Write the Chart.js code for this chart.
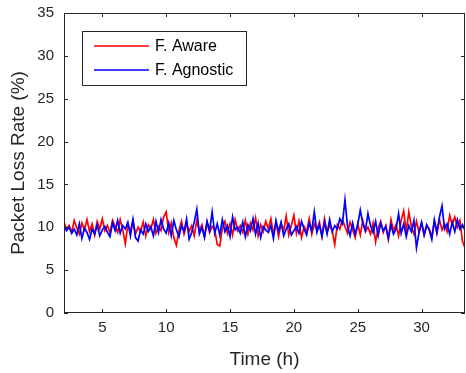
<!DOCTYPE html>
<html>
<head>
<meta charset="utf-8">
<script src="https://cdn.jsdelivr.net/npm/chart.js@4.4.1/dist/chart.umd.min.js"></script>
<style>
  html, body { margin: 0; padding: 0; background: #fff; }
  #wrap { width: 466px; height: 373px; }
</style>
</head>
<body>
<div id="wrap"><canvas id="plot" width="466" height="373"></canvas></div>
<script>
const timeStart = 2;
const timeStep = 0.2;

const awareLoss = [
  10.6, 9.8, 10.2, 9.4, 10.8, 9.9, 9.2, 10.5, 9.7, 10.9,
  9.5, 10.4, 9.1, 10.7, 9.8, 11.0, 9.6, 10.2, 9.3, 10.8,
  10.1, 9.4, 10.9, 9.7, 8.1, 10.3, 9.6, 10.8, 9.2, 10.0,
  9.5, 10.6, 9.0, 10.3, 9.8, 10.9, 9.3, 10.1, 9.6, 11.2,
  11.8, 9.4, 10.5, 8.8, 7.9, 9.6, 10.7, 9.2, 10.4, 9.5,
  10.2, 9.0, 10.8, 9.6, 10.3, 8.9, 10.6, 9.4, 10.1, 9.7,
  8.0, 7.8, 9.9, 10.7, 9.3, 10.4, 9.1, 10.9, 9.6, 10.2,
  9.4, 10.8, 9.2, 10.5, 9.7, 11.1, 9.0, 10.3, 9.5, 10.7,
  9.8, 11.0, 9.2, 10.6, 8.9, 10.4, 9.6, 11.3, 9.1, 10.2,
  11.4, 9.3, 10.7, 8.8, 10.1, 9.5, 11.0, 9.2, 10.4, 9.7,
  10.6, 9.0, 11.0, 9.4, 10.2, 9.6, 8.0, 10.3, 9.8, 10.9,
  10.1, 9.3, 10.6, 9.7, 8.8, 10.4, 9.1, 10.8, 9.5, 10.0,
  9.2, 10.5, 8.3, 9.9, 10.7, 9.4, 10.2, 8.6, 10.9, 9.6,
  10.3, 9.0, 10.8, 11.9, 9.5, 11.8, 10.1, 9.2, 10.7, 9.4,
  10.5, 9.1, 10.2, 9.8, 8.9, 10.6, 9.3, 10.9, 9.7, 10.4,
  9.5, 11.4, 10.3, 11.2, 10.0, 10.8, 8.4, 7.6
];

const agnosticLoss = [
  10.2, 9.6, 10.0, 9.3, 9.8, 9.1, 10.4, 8.7, 9.9, 9.4,
  8.6, 9.8, 9.2, 10.3, 9.0, 9.7, 10.1, 9.4, 8.9, 10.5,
  9.6, 10.8, 9.3, 10.2, 9.8, 10.6, 9.0, 10.9, 8.8, 8.4,
  9.7, 9.2, 10.4, 9.5, 10.1, 9.0, 10.7, 9.4, 10.9, 9.8,
  9.3, 10.5, 9.0, 10.8, 9.7, 8.9, 10.2, 9.5, 11.0, 8.6,
  9.4, 10.6, 12.1, 9.2, 10.0, 8.8, 10.7, 9.6, 11.8, 9.3,
  10.4, 9.1, 10.9, 9.5, 10.2, 8.9, 11.2, 9.7, 10.0, 9.3,
  10.6, 8.9, 10.3, 9.6, 11.0, 9.2, 10.5, 8.8, 10.1, 9.7,
  9.4, 10.2, 8.7, 10.8, 9.5, 10.6, 9.0, 9.8, 10.4, 9.1,
  9.6, 10.1, 9.3, 10.7, 9.8, 9.1, 10.5, 9.6, 11.8, 9.4,
  10.3, 8.9, 10.6, 9.2, 10.9, 9.5, 10.2, 9.8, 11.0, 10.4,
  13.2, 10.1, 9.0, 10.5, 9.2, 10.3, 12.0, 10.4, 9.6, 11.6,
  10.2, 9.4, 10.7, 9.0, 10.5, 9.6, 10.1, 8.7, 10.3, 9.2,
  9.8, 11.6, 9.3, 10.4, 8.9, 10.2, 9.5, 10.8, 7.6, 9.4,
  10.6, 9.1, 10.3, 9.7, 8.6, 10.9, 9.4, 11.2, 12.5, 9.8,
  10.4, 9.2, 10.6, 9.5, 10.9, 9.8, 10.3, 9.6
];

const seriesNames = ['F. Aware', 'F. Agnostic'];
const xTicks = [5, 10, 15, 20, 25, 30];
const yTicks = [0, 5, 10, 15, 20, 25, 30, 35];

const ink = '#262626';
const fontFamily = "'Liberation Sans', Arial, Helvetica, sans-serif";

function toPoints(values) {
  return values.map((v, i) => ({ x: +(timeStart + i * timeStep).toFixed(2), y: v }));
}

// box around the axes with inward ticks on all four sides (MATLAB look)
const boxPlugin = {
  id: 'matlabBox',
  afterDraw(chart) {
    const { ctx, chartArea: a, scales } = chart;
    ctx.save();
    ctx.strokeStyle = ink;
    ctx.lineWidth = 1;
    ctx.strokeRect(a.left + 0.5, a.top + 0.5, a.right - a.left - 1, a.bottom - a.top - 1);
    const len = 4;
    ctx.beginPath();
    xTicks.forEach(t => {
      const px = Math.round(scales.x.getPixelForValue(t)) + 0.5;
      ctx.moveTo(px, a.bottom); ctx.lineTo(px, a.bottom - len);
      ctx.moveTo(px, a.top); ctx.lineTo(px, a.top + len);
    });
    yTicks.forEach(t => {
      const py = Math.round(scales.y.getPixelForValue(t)) + 0.5;
      ctx.moveTo(a.left, py); ctx.lineTo(a.left + len, py);
      ctx.moveTo(a.right, py); ctx.lineTo(a.right - len, py);
    });
    ctx.stroke();

    // legend box, top-left inside the axes
    const lx = 82, ly = 31, lw = 164, lh = 54;
    ctx.fillStyle = '#fff';
    ctx.fillRect(lx, ly, lw, lh);
    ctx.strokeStyle = ink;
    ctx.strokeRect(lx + 0.5, ly + 0.5, lw, lh);
    ctx.font = '16px ' + fontFamily;
    ctx.textBaseline = 'middle';
    ctx.textAlign = 'left';
    chart.data.datasets.forEach((ds, i) => {
      const y = ly + 15 + i * 24;
      ctx.strokeStyle = ds.borderColor;
      ctx.lineWidth = 1.3;
      ctx.beginPath();
      ctx.moveTo(lx + 12, y); ctx.lineTo(lx + 67, y);
      ctx.stroke();
      ctx.fillStyle = '#000';
      ctx.fillText(ds.label, lx + 73, y + 1);
    });
    ctx.restore();
  }
};

new Chart(document.getElementById('plot'), {
  type: 'line',
  data: {
    datasets: [
      { label: seriesNames[0], data: toPoints(awareLoss), borderColor: '#ff0000', order: 1 },
      { label: seriesNames[1], data: toPoints(agnosticLoss), borderColor: '#0000ff', order: 0 }
    ]
  },
  options: {
    responsive: false,
    animation: false,
    layout: { padding: { top: 13, right: 1, left: 0, bottom: 0 } },
    elements: {
      point: { radius: 0 },
      line: { borderWidth: 1.7, tension: 0 }
    },
    scales: {
      x: {
        type: 'linear',
        min: 2,
        max: 33.4,
        afterBuildTicks: s => { s.ticks = xTicks.map(v => ({ value: v })); },
        afterFit: s => { s.height = 60; s.paddingLeft = 0; s.paddingRight = 0; },
        grid: { display: false, drawTicks: false },
        border: { display: false },
        ticks: { color: ink, padding: 6, maxRotation: 0, font: { family: fontFamily, size: 15 } },
        title: { display: true, text: 'Time (h)', color: ink, padding: { top: 0, bottom: 2 },
                 font: { family: fontFamily, size: 19 } }
      },
      y: {
        min: 0,
        max: 35,
        afterBuildTicks: s => { s.ticks = yTicks.map(v => ({ value: v })); },
        afterFit: s => { s.width = 64; s.paddingTop = 0; s.paddingBottom = 0; },
        grid: { display: false, drawTicks: false },
        border: { display: false },
        ticks: { color: ink, padding: 10, font: { family: fontFamily, size: 15 } },
        title: { display: true, text: 'Packet Loss Rate (%)', color: ink, padding: { top: 7, bottom: 0 },
                 font: { family: fontFamily, size: 19 } }
      }
    },
    plugins: {
      legend: { display: false },
      tooltip: { enabled: false }
    }
  },
  plugins: [boxPlugin]
});
</script>
</body>
</html>
